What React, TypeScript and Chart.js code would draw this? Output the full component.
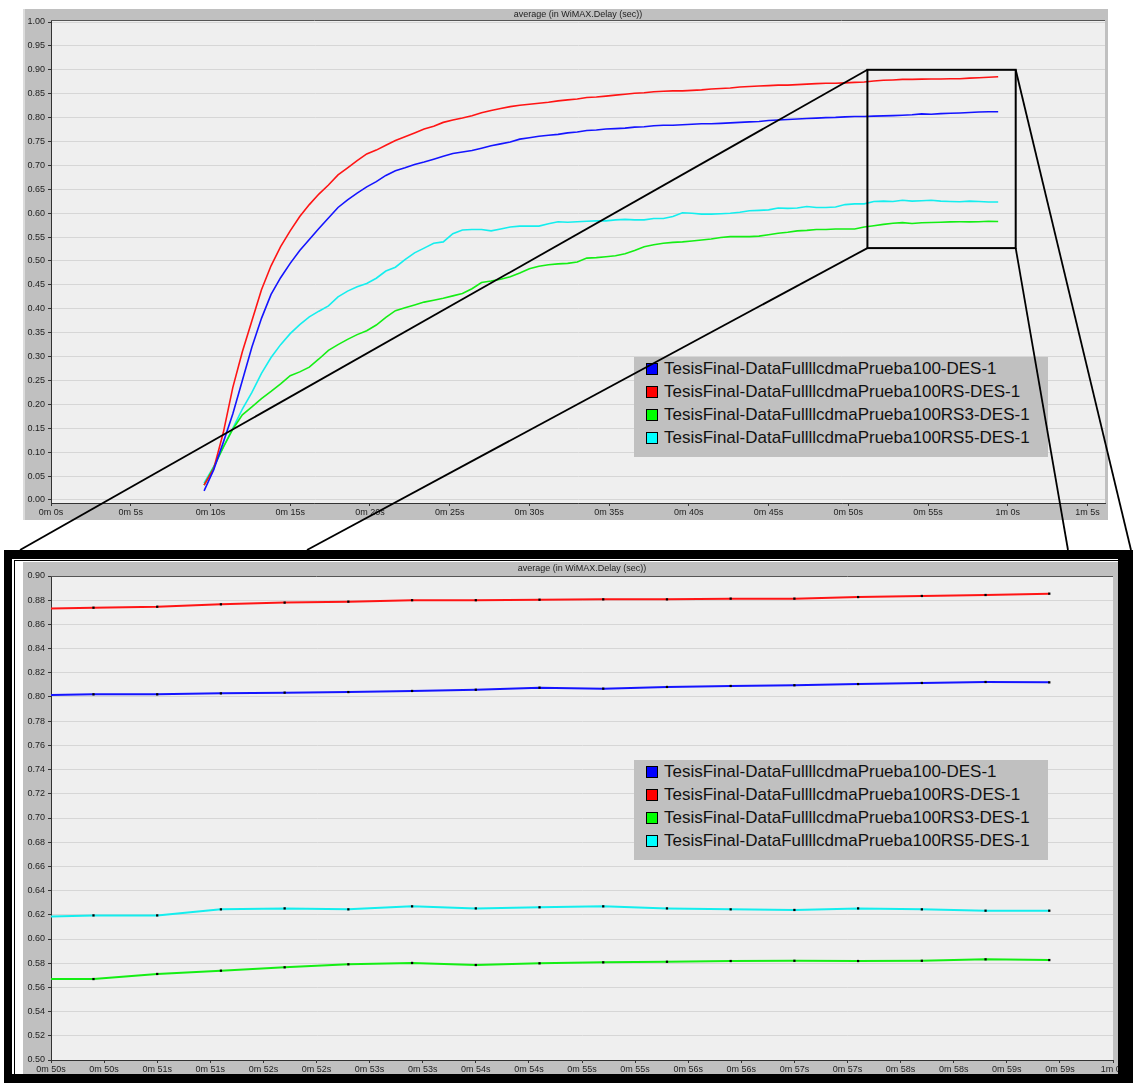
import React, { useEffect, useRef, useState } from 'react';
import { Chart, registerables } from 'chart.js';

Chart.register(...registerables);

const TITLE = 'average (in WiMAX.Delay (sec))';
const FONT = '"Liberation Sans", Arial, Helvetica, sans-serif';

// sample times (seconds)
const times = [
  9.6, 10.2, 10.8, 11.4, 12.0, 12.6, 13.2, 13.8, 14.4, 15.0,
  15.6, 16.2, 16.8, 17.4, 18.0, 18.6, 19.2, 19.8, 20.4, 21.0,
  21.6, 22.2, 22.8, 23.4, 24.0, 24.6, 25.2, 25.8, 26.4, 27.0,
  27.6, 28.2, 28.8, 29.4, 30.0, 30.6, 31.2, 31.8, 32.4, 33.0,
  33.6, 34.2, 34.8, 35.4, 36.0, 36.6, 37.2, 37.8, 38.4, 39.0,
  39.6, 40.2, 40.8, 41.4, 42.0, 42.6, 43.2, 43.8, 44.4, 45.0,
  45.6, 46.2, 46.8, 47.4, 48.0, 48.6, 49.2, 49.8, 50.4, 51.0,
  51.6, 52.2, 52.8, 53.4, 54.0, 54.6, 55.2, 55.8, 56.4, 57.0,
  57.6, 58.2, 58.8, 59.4,
];

const seriesLabels = [
  'TesisFinal-DataFullllcdmaPrueba100-DES-1',
  'TesisFinal-DataFullllcdmaPrueba100RS-DES-1',
  'TesisFinal-DataFullllcdmaPrueba100RS3-DES-1',
  'TesisFinal-DataFullllcdmaPrueba100RS5-DES-1',
];

const delay100 = [
  0.019, 0.063, 0.120, 0.180, 0.250, 0.320, 0.380, 0.430, 0.465, 0.495,
  0.522, 0.545, 0.568, 0.590, 0.612, 0.628, 0.642, 0.655, 0.666, 0.679,
  0.689, 0.695, 0.702, 0.707, 0.713, 0.719, 0.725, 0.728, 0.731, 0.736,
  0.741, 0.745, 0.749, 0.755, 0.758, 0.761, 0.763, 0.765, 0.768, 0.770,
  0.773, 0.774, 0.776, 0.777, 0.778, 0.780, 0.781, 0.783, 0.784, 0.784,
  0.785, 0.786, 0.787, 0.787, 0.788, 0.789, 0.790, 0.791, 0.792, 0.794,
  0.795, 0.796, 0.797, 0.798, 0.799, 0.800, 0.8005, 0.8015, 0.8022, 0.8022,
  0.803, 0.8036, 0.8041, 0.805, 0.806, 0.8077, 0.8069, 0.8083, 0.8091, 0.8097,
  0.8107, 0.8116, 0.8124, 0.8121,
];

const delay100RS = [
  0.031, 0.065, 0.140, 0.235, 0.310, 0.375, 0.440, 0.490, 0.530, 0.563,
  0.593, 0.618, 0.640, 0.659, 0.680, 0.695, 0.710, 0.724, 0.732, 0.742,
  0.752, 0.760, 0.768, 0.776, 0.782, 0.790, 0.795, 0.799, 0.804, 0.810,
  0.815, 0.819, 0.823, 0.826, 0.828, 0.830, 0.832, 0.835, 0.837, 0.839,
  0.842, 0.843, 0.845, 0.847, 0.849, 0.851, 0.852, 0.854, 0.855, 0.856,
  0.856, 0.857, 0.858, 0.860, 0.861, 0.862, 0.864, 0.865, 0.866, 0.867,
  0.868, 0.868, 0.869, 0.870, 0.871, 0.872, 0.872, 0.8727, 0.8738, 0.8746,
  0.8766, 0.878, 0.8788, 0.880, 0.880, 0.8804, 0.8807, 0.8807, 0.8813, 0.8813,
  0.8826, 0.8835, 0.8843, 0.8854,
];

const delay100RS3 = [
  0.031, 0.068, 0.110, 0.148, 0.178, 0.195, 0.212, 0.227, 0.243, 0.260,
  0.268, 0.278, 0.295, 0.313, 0.325, 0.336, 0.346, 0.354, 0.366, 0.382,
  0.396, 0.402, 0.408, 0.414, 0.418, 0.422, 0.427, 0.432, 0.442, 0.455,
  0.458, 0.462, 0.467, 0.475, 0.484, 0.489, 0.492, 0.494, 0.495, 0.498,
  0.506, 0.507, 0.509, 0.511, 0.515, 0.522, 0.530, 0.534, 0.537, 0.539,
  0.540, 0.542, 0.544, 0.546, 0.549, 0.551, 0.551, 0.551, 0.552, 0.555,
  0.558, 0.560, 0.563, 0.564, 0.566, 0.566, 0.567, 0.567, 0.5669, 0.5711,
  0.5738, 0.5766, 0.5791, 0.5802, 0.5785, 0.5799, 0.5807, 0.5812, 0.5818, 0.582,
  0.5818, 0.582, 0.5832, 0.5826,
];

const delay100RS5 = [
  0.035, 0.070, 0.110, 0.150, 0.190, 0.225, 0.265, 0.298, 0.325, 0.348,
  0.367, 0.383, 0.395, 0.406, 0.425, 0.437, 0.446, 0.453, 0.464, 0.479,
  0.487, 0.503, 0.517, 0.527, 0.537, 0.540, 0.557, 0.565, 0.566, 0.566,
  0.563, 0.567, 0.571, 0.573, 0.573, 0.573, 0.578, 0.582, 0.581, 0.582,
  0.583, 0.584, 0.584, 0.586, 0.587, 0.586, 0.586, 0.589, 0.589, 0.593,
  0.601, 0.600, 0.598, 0.598, 0.599, 0.600, 0.602, 0.605, 0.606, 0.607,
  0.611, 0.610, 0.611, 0.614, 0.612, 0.612, 0.613, 0.618, 0.6195, 0.6195,
  0.6245, 0.6253, 0.6245, 0.627, 0.6253, 0.6262, 0.627, 0.6253, 0.6245, 0.624,
  0.6253, 0.6245, 0.6234, 0.6234,
];

const seriesValues = [delay100, delay100RS, delay100RS3, delay100RS5];
const lineColors = ['#1414ff', '#ff1414', '#14ee14', '#14eeee'];
const legendColors = ['#0000ff', '#ff0000', '#00ff00', '#00ffff'];

const topXTicks = [0, 5, 10, 15, 20, 25, 30, 35, 40, 45, 50, 55, 60, 65];
const topYTicks = [0, 0.05, 0.1, 0.15, 0.2, 0.25, 0.3, 0.35, 0.4, 0.45, 0.5, 0.55, 0.6, 0.65, 0.7, 0.75, 0.8, 0.85, 0.9, 0.95, 1.0];
const bottomXTicks = [50, 50.5, 51, 51.5, 52, 52.5, 53, 53.5, 54, 54.5, 55, 55.5, 56, 56.5, 57, 57.5, 58, 58.5, 59, 59.5, 60];
const bottomYTicks = [0.5, 0.52, 0.54, 0.56, 0.58, 0.6, 0.62, 0.64, 0.66, 0.68, 0.7, 0.72, 0.74, 0.76, 0.78, 0.8, 0.82, 0.84, 0.86, 0.88, 0.9];

// zoom rectangle on the top chart, in data units
const zoomBoxX = [51.2, 60.5];
const zoomBoxY = [0.527, 0.9];

// layout (page pixels)
const TOP = { left: 23, top: 9, width: 1085, height: 511 };
const BOT = { left: 23, top: 562, width: 1110, height: 512 };
const linkTargets = [
  [20, 550],
  [307, 550],
  [1131, 550],
  [1068, 550],
];

function fmtTop(v: number) {
  const m = Math.floor(v / 60);
  const s = Math.round(v - m * 60);
  return `${m}m ${s}s`;
}
function fmtBottom(v: number) {
  const m = Math.floor(v / 60 + 1e-9);
  const s = Math.floor(v - m * 60 + 1e-9);
  return `${m}m ${s}s`;
}

const plotFrame = {
  id: 'plotFrame',
  beforeDraw(chart: any) {
    const { ctx, chartArea: a } = chart;
    ctx.save();
    ctx.fillStyle = '#efefef';
    ctx.fillRect(a.left, a.top, a.right - a.left, a.bottom - a.top);
    ctx.restore();
  },
  afterDraw(chart: any) {
    const { ctx, chartArea: a } = chart;
    ctx.save();
    ctx.strokeStyle = '#555';
    ctx.lineWidth = 1;
    ctx.beginPath();
    ctx.moveTo(a.left, a.top + 0.5);
    ctx.lineTo(a.right, a.top + 0.5);
    ctx.stroke();
    ctx.restore();
  },
};

function makeOptions(cfg: any) {
  const tickFont = { family: FONT, size: 9 };
  return {
    responsive: false,
    animation: false,
    devicePixelRatio: 1,
    events: [],
    layout: { padding: { left: 0, right: cfg.padRight, top: 0, bottom: 0 } },
    plugins: {
      legend: { display: false },
      tooltip: { enabled: false },
      title: {
        display: true,
        text: TITLE,
        fullSize: false,
        padding: 0,
        color: '#222',
        font: { family: FONT, size: 9, weight: 'normal', lineHeight: cfg.titleH + 'px' },
      },
    },
    scales: {
      x: {
        type: 'linear',
        min: cfg.xMin,
        max: cfg.xMax,
        afterBuildTicks: (s: any) => {
          s.ticks = cfg.xTicks.map((v: number) => ({ value: v }));
        },
        afterFit: (s: any) => {
          s.height = cfg.xAxisH;
        },
        ticks: {
          callback: (v: any) => cfg.xFmt(Number(v)),
          font: tickFont,
          color: '#222',
          padding: 1,
          maxRotation: 0,
          autoSkip: false,
        },
        grid: { drawOnChartArea: false, drawTicks: true, tickLength: 3, tickColor: '#333' },
        border: { display: true, color: '#333', width: 1 },
      },
      y: {
        type: 'linear',
        min: cfg.yMin,
        max: cfg.yMax,
        afterBuildTicks: (s: any) => {
          s.ticks = cfg.yTicks.map((v: number) => ({ value: v }));
        },
        afterFit: (s: any) => {
          s.width = 28;
        },
        ticks: {
          callback: (v: any) => Number(v).toFixed(2),
          font: tickFont,
          color: '#222',
          padding: 3,
        },
        grid: { color: '#d6d6d6', lineWidth: 1, drawTicks: true, tickLength: 3, tickColor: '#333' },
        border: { display: true, color: '#333', width: 1 },
      },
    },
  };
}

function buildDatasets(minT: number, lineWidth: number, markers: boolean) {
  return seriesValues.map((vals, k) => ({
    label: seriesLabels[k],
    data: times
      .map((t, i) => ({ x: t, y: vals[i] }))
      .filter((p) => p.x >= minT),
    borderColor: lineColors[k],
    backgroundColor: lineColors[k],
    borderWidth: lineWidth,
    tension: 0,
    fill: false,
    pointRadius: markers ? 1.6 : 0,
    pointStyle: 'rect',
    pointBackgroundColor: '#000',
    pointBorderColor: '#000',
    pointBorderWidth: 0,
  }));
}

function Legend({ left, top }: { left: number; top: number }) {
  return (
    <div
      style={{
        position: 'absolute',
        left,
        top,
        width: 414,
        height: 100,
        background: '#c0c0c0',
        zIndex: 2,
      }}
    >
      {seriesLabels.map((label, i) => (
        <div
          key={label}
          style={{
            position: 'absolute',
            left: 0,
            top: i * 23,
            height: 23,
            display: 'flex',
            alignItems: 'center',
          }}
        >
          <span
            style={{
              display: 'inline-block',
              width: 12,
              height: 12,
              boxSizing: 'border-box',
              border: '1px solid #000',
              background: legendColors[i],
              marginLeft: 12,
              marginRight: 6,
            }}
          />
          <span
            style={{
              fontFamily: FONT,
              fontSize: 17,
              lineHeight: '23px',
              color: '#111',
              whiteSpace: 'nowrap',
            }}
          >
            {label}
          </span>
        </div>
      ))}
    </div>
  );
}

export default function App() {
  const topRef = useRef<HTMLCanvasElement>(null);
  const botRef = useRef<HTMLCanvasElement>(null);
  const [box, setBox] = useState<null | { l: number; r: number; t: number; b: number }>(null);

  useEffect(() => {
    const top = new Chart(topRef.current as HTMLCanvasElement, {
      type: 'line',
      data: { datasets: buildDatasets(0, 1.6, false) as any },
      options: makeOptions({
        padRight: 3,
        titleH: 11,
        xMin: 0,
        xMax: 66.1,
        xTicks: topXTicks,
        xFmt: fmtTop,
        xAxisH: 17,
        yMin: -0.0063,
        yMax: 1.0042,
        yTicks: topYTicks,
      }) as any,
      plugins: [plotFrame],
    });
    const bot = new Chart(botRef.current as HTMLCanvasElement, {
      type: 'line',
      data: { datasets: buildDatasets(49, 2, true) as any },
      options: makeOptions({
        padRight: 20,
        titleH: 14,
        xMin: 50,
        xMax: 60,
        xTicks: bottomXTicks,
        xFmt: fmtBottom,
        xAxisH: 14,
        yMin: 0.5,
        yMax: 0.9,
        yTicks: bottomYTicks,
      }) as any,
      plugins: [plotFrame],
    });
    const xs = top.scales.x;
    const ys = top.scales.y;
    setBox({
      l: TOP.left + xs.getPixelForValue(zoomBoxX[0]),
      r: TOP.left + xs.getPixelForValue(zoomBoxX[1]),
      t: TOP.top + ys.getPixelForValue(zoomBoxY[1]),
      b: TOP.top + ys.getPixelForValue(zoomBoxY[0]),
    });
    return () => {
      top.destroy();
      bot.destroy();
    };
  }, []);

  const corners = box
    ? [
        [box.l, box.t],
        [box.l, box.b],
        [box.r, box.t],
        [box.r, box.b],
      ]
    : [];

  return (
    <div style={{ position: 'absolute', left: 0, top: 0, width: 1133, height: 1083, background: '#fff', overflow: 'hidden' }}>
      {/* top chart */}
      <div style={{ position: 'absolute', left: TOP.left, top: TOP.top, width: TOP.width, height: TOP.height, background: '#c0c0c0' }}>
        <canvas ref={topRef} width={TOP.width} height={TOP.height} style={{ display: 'block' }} />
        <div style={{ position: 'absolute', left: 0, top: 0, width: 2, height: TOP.height, background: '#dcdcdc' }} />
      </div>
      <Legend left={634} top={357} />

      {/* bottom zoomed chart */}
      <div
        style={{
          position: 'absolute',
          left: 14,
          top: 560,
          width: 1112,
          height: 520,
          boxSizing: 'border-box',
          border: '1px solid #000',
        }}
      />
      <div style={{ position: 'absolute', left: BOT.left, top: BOT.top, width: BOT.width, height: BOT.height, background: '#c0c0c0', zIndex: 1 }}>
        <canvas ref={botRef} width={BOT.width} height={BOT.height} style={{ display: 'block' }} />
      </div>
      <div style={{ position: 'absolute', left: 0, top: 0, zIndex: 2 }}>
        <Legend left={634} top={760} />
      </div>
      <div
        style={{
          position: 'absolute',
          left: 4,
          top: 550,
          width: 1129,
          height: 533,
          boxSizing: 'border-box',
          borderStyle: 'solid',
          borderColor: '#000',
          borderWidth: '9px 15px 9px 8px',
          zIndex: 3,
          pointerEvents: 'none',
        }}
      />

      {/* zoom box and connectors */}
      <svg
        width={1133}
        height={1083}
        style={{ position: 'absolute', left: 0, top: 0, zIndex: 5, pointerEvents: 'none' }}
      >
        {box && (
          <g>
            <rect x={box.l} y={box.t} width={box.r - box.l} height={box.b - box.t} fill="none" stroke="#000" strokeWidth={2} />
            {corners.map((c, i) => (
              <line key={i} x1={c[0]} y1={c[1]} x2={linkTargets[i][0]} y2={linkTargets[i][1]} stroke="#000" strokeWidth={1.8} />
            ))}
          </g>
        )}
      </svg>
    </div>
  );
}
